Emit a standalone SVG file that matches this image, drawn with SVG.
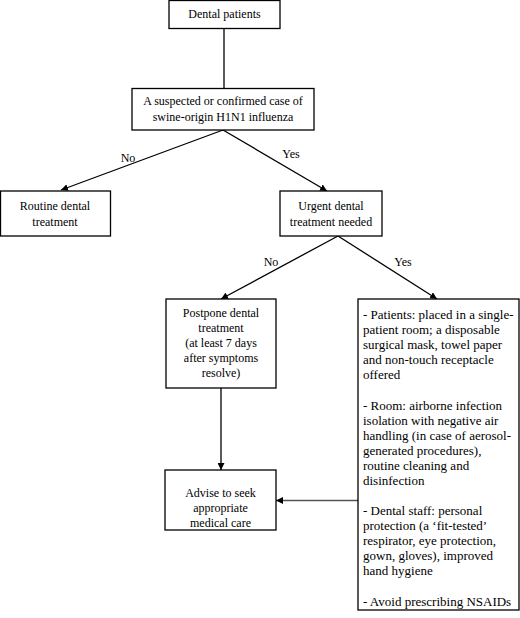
<svg xmlns="http://www.w3.org/2000/svg" width="520" height="618" viewBox="0 0 520 618">
<style>
.box{fill:#fff;stroke:#000;stroke-width:1.3}
text{font-family:"Liberation Serif","Times New Roman",serif;font-size:12px;fill:#000}
.c{text-anchor:middle}
.r{font-size:13px}
.ln{stroke:#000;stroke-width:1.3;fill:none}
</style>
<defs>
<marker id="ah" viewBox="0 0 10 10" refX="10" refY="5" markerWidth="7" markerHeight="7" markerUnits="userSpaceOnUse" orient="auto">
<path d="M0,0 L10,5 L0,10 z" fill="#000"/>
</marker>
</defs>
<rect width="520" height="618" fill="#fff"/>
<g id="connectors">
<line class="ln" x1="224" y1="28" x2="224" y2="88"/>
<line class="ln" x1="223" y1="130" x2="61" y2="190" marker-end="url(#ah)"/>
<line class="ln" x1="223" y1="130" x2="327" y2="191" marker-end="url(#ah)"/>
<line class="ln" x1="338" y1="236" x2="221" y2="299" marker-end="url(#ah)"/>
<line class="ln" x1="338" y1="236" x2="437" y2="299" marker-end="url(#ah)"/>
<line class="ln" x1="221" y1="388" x2="221" y2="470" marker-end="url(#ah)"/>
<line x1="358" y1="500.5" x2="276" y2="500.5" stroke="#555" stroke-width="1.3" marker-end="url(#ah)"/>
<text x="128" y="162" class="c">No</text>
<text x="291" y="158" class="c">Yes</text>
<text x="271" y="266" class="c">No</text>
<text x="403" y="266" class="c">Yes</text>
</g>
<g id="n1">
<rect class="box" x="169" y="0.5" width="111" height="28"/>
<text x="224.5" y="18" class="c">Dental patients</text>
</g>
<g id="n2">
<rect class="box" x="132" y="88.5" width="182" height="41.5"/>
<text x="223" y="105" class="c">A suspected or confirmed case of</text>
<text x="223" y="121" class="c">swine-origin H1N1 influenza</text>
</g>
<g id="n3">
<rect class="box" x="0.5" y="191" width="110" height="45"/>
<text x="55" y="210" class="c">Routine dental</text>
<text x="55" y="226" class="c">treatment</text>
</g>
<g id="n4">
<rect class="box" x="280" y="191" width="102" height="45"/>
<text x="331" y="210" class="c">Urgent dental</text>
<text x="331" y="226" class="c">treatment needed</text>
</g>
<g id="n5">
<rect class="box" x="166" y="299" width="110" height="89"/>
<text x="221" y="317" class="c">Postpone dental</text>
<text x="221" y="332" class="c">treatment</text>
<text x="221" y="347" class="c">(at least 7 days</text>
<text x="221" y="362" class="c">after symptoms</text>
<text x="221" y="377" class="c">resolve)</text>
</g>
<g id="n6">
<rect class="box" x="165" y="470" width="111" height="60"/>
<text x="220.5" y="497" class="c">Advise to seek</text>
<text x="220.5" y="512" class="c">appropriate</text>
<text x="220.5" y="527" class="c">medical care</text>
</g>
<g id="n7">
<rect class="box" x="358" y="299" width="161" height="311"/>
<text class="r" x="363" y="319">- Patients: placed in a single-</text>
<text class="r" x="363" y="334">patient room; a disposable</text>
<text class="r" x="363" y="349">surgical mask, towel paper</text>
<text class="r" x="363" y="364">and non-touch receptacle</text>
<text class="r" x="363" y="379">offered</text>
<text class="r" x="363" y="410">- Room: airborne infection</text>
<text class="r" x="363" y="425">isolation with negative air</text>
<text class="r" x="363" y="440">handling (in case of aerosol-</text>
<text class="r" x="363" y="455">generated procedures),</text>
<text class="r" x="363" y="470">routine cleaning and</text>
<text class="r" x="363" y="485">disinfection</text>
<text class="r" x="363" y="515">- Dental staff: personal</text>
<text class="r" x="363" y="530">protection (a ‘fit-tested’</text>
<text class="r" x="363" y="545">respirator, eye protection,</text>
<text class="r" x="363" y="560">gown, gloves), improved</text>
<text class="r" x="363" y="575">hand hygiene</text>
<text class="r" x="363" y="606">- Avoid prescribing NSAIDs</text>
</g>
</svg>
